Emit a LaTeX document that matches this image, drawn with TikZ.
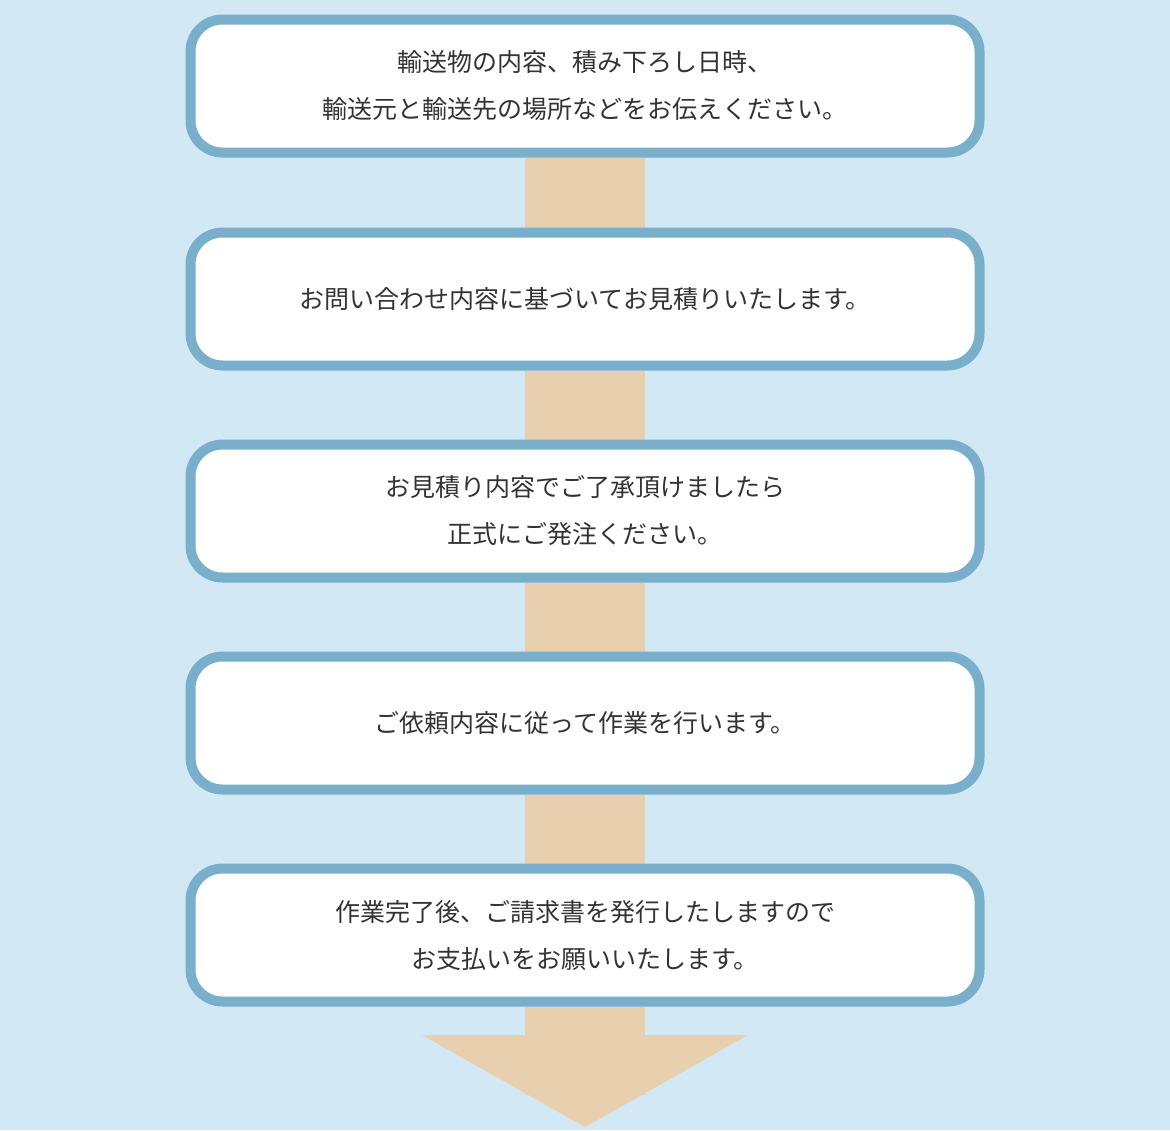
\documentclass[tikz,border=0pt]{standalone}
\usepackage{fontspec}
\setmainfont{Noto Sans CJK JP}
\usetikzlibrary{positioning, backgrounds}
\definecolor{bgblue}{HTML}{D2E8F4}
\definecolor{frameblue}{HTML}{7AAFCB}
\definecolor{barbeige}{HTML}{E8CFAE}
\definecolor{txtgray}{HTML}{333333}
\tikzset{
  stepbox/.style={draw=frameblue, line width=10pt, fill=white, rounded corners=32pt,
    minimum width=789pt, minimum height=133pt, align=center,
    font=\fontsize{25pt}{47pt}\selectfont, text=txtgray},
  flowbar/.style={draw=barbeige, line width=120pt}
}
\begin{document}
\begin{tikzpicture}[x=1pt, y=-1pt]
\useasboundingbox (0,0) rectangle (1170,1130);

%Steps of the order
\node[stepbox] (inquiry) at (585,86) {輸送物の内容、積み下ろし日時、\\輸送元と輸送先の場所などをお伝えください。};
\node[stepbox] (estimate) at (585,299) {お問い合わせ内容に基づいてお見積りいたします。};
\node[stepbox] (order) at (585,511) {お見積り内容でご了承頂けましたら\\正式にご発注ください。};
\node[stepbox] (work) at (585,723) {ご依頼内容に従って作業を行います。};
\node[stepbox] (payment) at (585,935) {作業完了後、ご請求書を発行したしますので\\お支払いをお願いいたします。};
\coordinate (barend) at (585,1095);
\coordinate (tip) at (585,1127);

%Background and bars between the steps
\begin{scope}[on background layer]
\fill[bgblue] (0,0) rectangle (1170,1130);
\draw[flowbar] (inquiry.south) -- (estimate.north);
\draw[flowbar] (estimate.south) -- (order.north);
\draw[flowbar] (order.south) -- (work.north);
\draw[flowbar] (work.south) -- (payment.north);
\draw[flowbar] (payment.south) -- (barend);
\end{scope}

%Arrow head
\fill[barbeige] (422,1035) -- (748,1035) -- (tip) -- cycle;
\end{tikzpicture}
\end{document}
